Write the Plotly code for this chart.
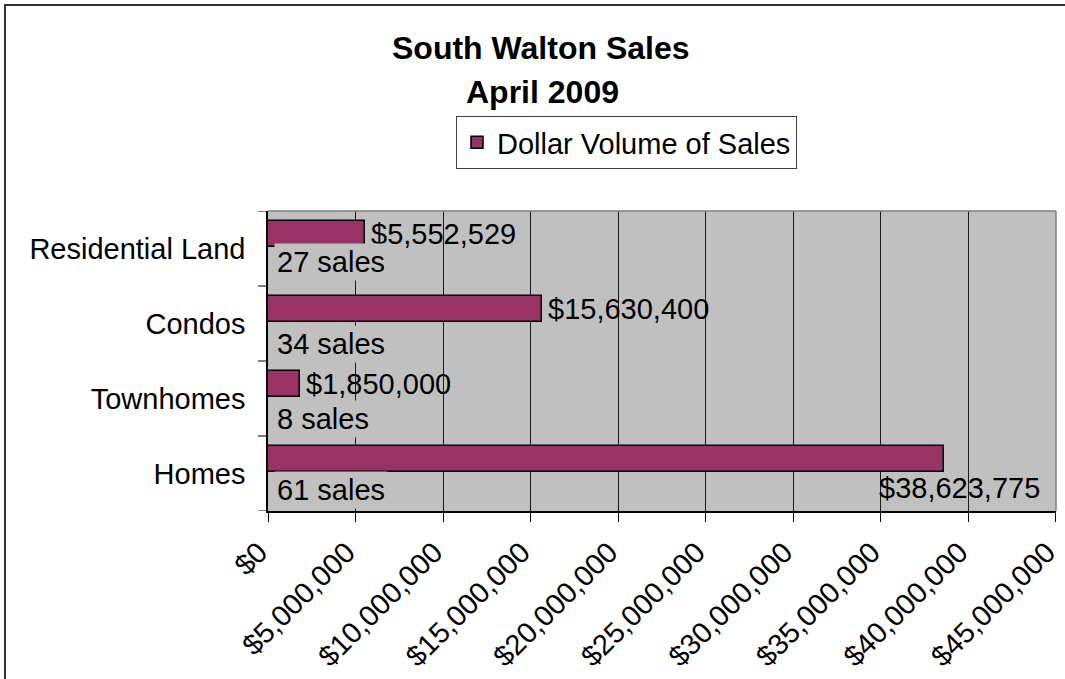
import plotly.graph_objects as go

# ---- data ----
categories = ["Homes", "Townhomes", "Condos", "Residential Land"]
dollar_volume = [38623775, 1850000, 15630400, 5552529]
sales_count = [61, 8, 34, 27]
series_name = "Dollar Volume of Sales"
title_line1 = "South Walton Sales"
title_line2 = "April 2009"
x_max = 45000000
x_step = 5000000

# ---- layout constants (px) ----
W, H = 1065, 679
L, R, T, B = 268, 9, 211, 168
PW, PH = W - L - R, H - T - B
FONT = "Liberation Sans, Arial, sans-serif"
FS = 29
BAR_COLOR = "#993366"
PLOT_BG = "#C0C0C0"

bar_offset = 0.02
bar_width = 0.347
sales_shift = [-16, -20, -20, -13]


def px_x(p):
    return (p - L) / PW


def px_y(p):
    return (H - B - p) / PH


fig = go.Figure()
fig.add_trace(go.Bar(
    x=dollar_volume,
    y=list(range(len(categories))),
    orientation="h",
    name=series_name,
    marker=dict(color=BAR_COLOR, line=dict(color="black", width=1.5)),
    offset=bar_offset,
    width=bar_width,
    hoverinfo="x+y",
))

annotations = []
px_per_unit = PW / x_max
for i, v in enumerate(dollar_volume):
    txt = f"${v:,}"
    est_w = len(txt) * FS * 0.53
    end_px = v * px_per_unit
    if end_px + 8 + est_w <= PW:
        annotations.append(dict(
            x=v, y=i + bar_offset + bar_width / 2, xref="x", yref="y",
            text=txt, showarrow=False, xanchor="left", yanchor="middle",
            xshift=4, font=dict(family=FONT, size=FS, color="black"),
        ))
    else:
        annotations.append(dict(
            x=v, y=i + bar_offset, xref="x", yref="y",
            text=txt, showarrow=False, xanchor="center", yanchor="top",
            xshift=15, yshift=2, font=dict(family=FONT, size=FS, color="black"),
        ))
for i, n in enumerate(sales_count):
    annotations.append(dict(
        x=0, y=i, xref="x", yref="y",
        text=f"{n} sales", showarrow=False, xanchor="left", yanchor="middle",
        xshift=6, yshift=sales_shift[i], bgcolor=PLOT_BG, borderpad=2,
        font=dict(family=FONT, size=FS, color="black"),
    ))
annotations.append(dict(
    x=px_x(541), y=px_y(48), xref="paper", yref="paper",
    text=f"<b>{title_line1}</b>", showarrow=False, xanchor="center", yanchor="middle",
    font=dict(family=FONT, size=32, color="black"),
))
annotations.append(dict(
    x=px_x(542), y=px_y(92), xref="paper", yref="paper",
    text=f"<b>{title_line2}</b>", showarrow=False, xanchor="center", yanchor="middle",
    font=dict(family=FONT, size=32, color="black"),
))

shapes = [
    # outer chart border (top and left edges visible)
    dict(type="line", xref="paper", yref="paper",
         x0=px_x(4), x1=px_x(W + 5), y0=px_y(5), y1=px_y(5),
         line=dict(color="#333333", width=2), layer="below"),
    dict(type="line", xref="paper", yref="paper",
         x0=px_x(5), x1=px_x(5), y0=px_y(4), y1=px_y(H + 5),
         line=dict(color="#333333", width=2), layer="below"),
    # plot area top and right border (grey)
    dict(type="line", xref="paper", yref="paper", x0=0, x1=1, y0=1, y1=1,
         line=dict(color="#808080", width=1.5), layer="above"),
    dict(type="line", xref="paper", yref="paper", x0=1, x1=1, y0=0, y1=1,
         line=dict(color="#808080", width=1.5), layer="above"),
]

tickvals = list(range(0, x_max + 1, x_step))
ticktext = [f"${v:,}" for v in tickvals]

fig.update_layout(
    width=W, height=H,
    margin=dict(l=L, r=R, t=T, b=B, pad=0, autoexpand=False),
    paper_bgcolor="white",
    plot_bgcolor=PLOT_BG,
    font=dict(family=FONT, size=FS, color="black"),
    showlegend=True,
    legend=dict(
        x=px_x(456), y=px_y(116), xanchor="left", yanchor="top",
        bgcolor="white", bordercolor="#404040", borderwidth=1,
        font=dict(family=FONT, size=FS, color="black"),
        itemwidth=30,
    ),
    annotations=annotations,
    shapes=shapes,
    xaxis=dict(
        range=[0, x_max * 1.0002], tickmode="array",
        tickvals=tickvals, ticktext=ticktext, tickangle=-45,
        showgrid=True, gridcolor="#1a1a1a", gridwidth=1,
        showline=True, linecolor="black", linewidth=1.5,
        ticks="outside", ticklen=9, tickcolor="black", tickwidth=1,
        zeroline=False, fixedrange=True, automargin=False,
        ticklabeloverflow="allow", ticklabelstandoff=2, ticklabelshift=-9,
        tickfont=dict(family=FONT, size=FS, color="black"),
    ),
    yaxis=dict(
        range=[-0.5, len(categories) - 0.5],
        tickmode="array",
        tickvals=list(range(len(categories))), ticktext=categories,
        showgrid=False, zeroline=False,
        showline=True, linecolor="black", linewidth=1.5,
        ticks="", fixedrange=True, automargin=False,
        tickfont=dict(family=FONT, size=FS, color="black"),
        ticklabelstandoff=15,
    ),
    bargap=0,
)

for b in [k - 0.5 for k in range(len(categories) + 1)]:
    fig.add_shape(type="line", xref="paper", yref="y",
                  x0=px_x(L - 10), x1=0, y0=b, y1=b,
                  line=dict(color="black", width=1))

fig.write_html("out.html")
